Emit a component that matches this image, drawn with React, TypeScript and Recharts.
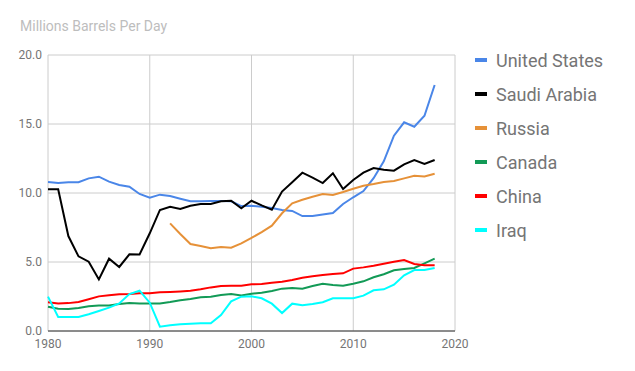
import { LineChart, Line, XAxis, YAxis, CartesianGrid } from "recharts";

const years = [
  1980, 1981, 1982, 1983, 1984, 1985, 1986, 1987, 1988, 1989,
  1990, 1991, 1992, 1993, 1994, 1995, 1996, 1997, 1998, 1999,
  2000, 2001, 2002, 2003, 2004, 2005, 2006, 2007, 2008, 2009,
  2010, 2011, 2012, 2013, 2014, 2015, 2016, 2017, 2018,
];

const unitedStates = [
  10.8, 10.72, 10.78, 10.78, 11.06, 11.18, 10.82, 10.58, 10.46, 9.93,
  9.66, 9.88, 9.78, 9.59, 9.4, 9.4, 9.42, 9.42, 9.4, 9.05,
  9.08, 9.0, 8.91, 8.77, 8.7, 8.33, 8.33, 8.45, 8.55, 9.2,
  9.69, 10.14, 11.07, 12.3, 14.15, 15.12, 14.8, 15.6, 17.83,
];

const saudiArabia = [
  10.27, 10.27, 6.88, 5.41, 5.02, 3.74, 5.24, 4.64, 5.56, 5.54,
  7.08, 8.77, 9.0, 8.84, 9.08, 9.2, 9.2, 9.4, 9.44, 8.89,
  9.44, 9.1, 8.79, 10.1, 10.78, 11.47, 11.11, 10.72, 11.43, 10.29,
  10.94, 11.47, 11.81, 11.69, 11.62, 12.08, 12.39, 12.1, 12.39,
];

const russia = [
  null, null, null, null, null, null, null, null, null, null,
  null, null, 7.8, 7.03, 6.3, 6.16, 5.99, 6.09, 6.04, 6.35,
  6.74, 7.17, 7.63, 8.53, 9.25, 9.51, 9.73, 9.93, 9.86, 10.07,
  10.31, 10.53, 10.65, 10.8, 10.87, 11.06, 11.25, 11.2, 11.4,
];

const canada = [
  1.76, 1.62, 1.6, 1.67, 1.79, 1.84, 1.84, 1.96, 2.03, 2.0,
  2.0, 2.0, 2.1, 2.22, 2.32, 2.44, 2.49, 2.61, 2.68, 2.58,
  2.7, 2.78, 2.9, 3.07, 3.12, 3.07, 3.26, 3.43, 3.33, 3.28,
  3.43, 3.6, 3.89, 4.11, 4.4, 4.49, 4.57, 4.9, 5.24,
];

const china = [
  2.08, 2.0, 2.02, 2.1, 2.3, 2.51, 2.59, 2.66, 2.68, 2.73,
  2.73, 2.8, 2.83, 2.87, 2.92, 3.02, 3.16, 3.26, 3.28, 3.28,
  3.38, 3.4, 3.5, 3.57, 3.7, 3.86, 3.96, 4.06, 4.13, 4.18,
  4.52, 4.61, 4.73, 4.88, 5.02, 5.14, 4.86, 4.76, 4.76,
];

const iraq = [
  2.49, 1.01, 1.01, 1.01, 1.21, 1.45, 1.69, 2.0, 2.68, 2.92,
  2.05, 0.31, 0.41, 0.49, 0.53, 0.56, 0.56, 1.16, 2.15, 2.49,
  2.51, 2.37, 1.98, 1.3, 1.98, 1.86, 1.96, 2.08, 2.37, 2.37,
  2.37, 2.56, 2.95, 3.02, 3.36, 4.04, 4.42, 4.42, 4.57,
];

const xTicks = [1980, 1990, 2000, 2010, 2020];
const yTicks = [0, 5, 10, 15, 20];

const series = [
  { key: "us", name: "United States", color: "#4a86e8", values: unitedStates },
  { key: "sa", name: "Saudi Arabia", color: "#000000", values: saudiArabia },
  { key: "ru", name: "Russia", color: "#e69138", values: russia },
  { key: "ca", name: "Canada", color: "#129a56", values: canada },
  { key: "cn", name: "China", color: "#ff0000", values: china },
  { key: "iq", name: "Iraq", color: "#00ffff", values: iraq },
];

const data = years.map((year, i) => {
  const row: Record<string, number | null> = { year };
  series.forEach((s) => {
    row[s.key] = s.values[i];
  });
  return row;
});

const font = "Roboto, sans-serif";

export default function App() {
  return (
    <div style={{ position: "fixed", left: 0, top: 0, width: 635, height: 371, background: "#fff" }}>
      <div
        style={{
          position: "absolute",
          left: 20,
          top: 18,
          fontFamily: font,
          fontSize: 14,
          color: "#bdbdbd",
        }}
      >
        Millions Barrels Per Day
      </div>

      {/* legend, one row per country */}
      <div style={{ position: "absolute", left: 475, top: 43, fontFamily: font }}>
        {series.map((s) => (
          <div key={s.key} style={{ display: "flex", alignItems: "center", height: 34 }}>
            <span
              style={{
                display: "inline-block",
                width: 12,
                height: 4,
                background: s.color,
                marginRight: 9,
              }}
            />
            <span style={{ fontSize: 18, color: "#757575" }}>{s.name}</span>
          </div>
        ))}
      </div>

      <LineChart
        width={635}
        height={371}
        data={data}
        margin={{ top: 55, right: 180, bottom: 10, left: 0 }}
      >
        <CartesianGrid stroke="#cccccc" />
        <XAxis
          dataKey="year"
          type="number"
          domain={[1980, 2020]}
          ticks={xTicks}
          height={30}
          tickSize={0}
          tickMargin={8}
          axisLine={{ stroke: "#333333" }}
          tick={{ fill: "#757575", fontSize: 12, fontFamily: font }}
        />
        <YAxis
          domain={[0, 20]}
          ticks={yTicks}
          width={48}
          tickSize={0}
          tickMargin={6}
          axisLine={false}
          tickFormatter={(v: number) => v.toFixed(1)}
          tick={{ fill: "#757575", fontSize: 12, fontFamily: font }}
        />
        {series.map((s) => (
          <Line
            key={s.key}
            dataKey={s.key}
            name={s.name}
            stroke={s.color}
            strokeWidth={2}
            dot={false}
            isAnimationActive={false}
          />
        ))}
      </LineChart>
    </div>
  );
}
